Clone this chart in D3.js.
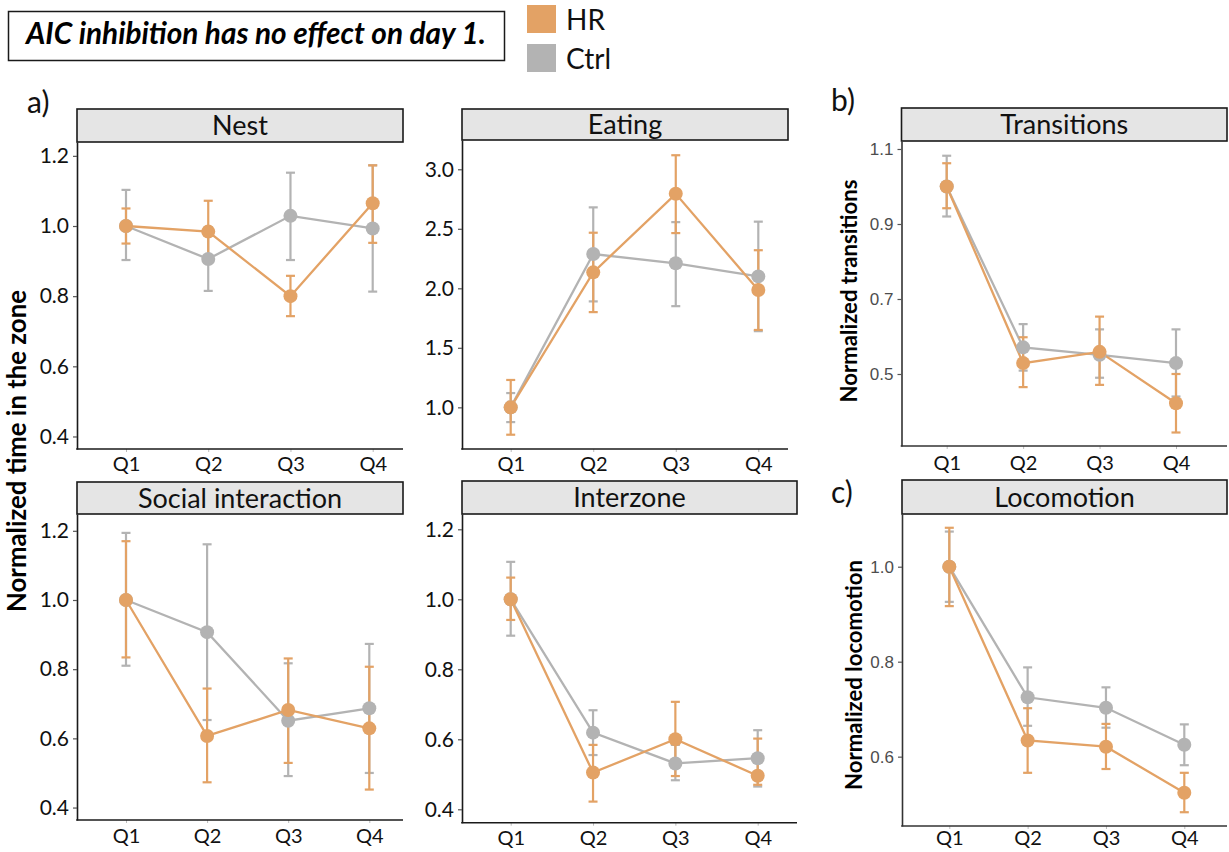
<!DOCTYPE html>
<html><head><meta charset="utf-8">
<script src="https://cdn.jsdelivr.net/npm/d3@7"></script>
<style>body{margin:0;background:#fff}svg{display:block}</style>
</head><body>
<svg id="c" width="1229" height="852"></svg>
<script>
// ---------- DATA ----------
const quarters = ["Q1", "Q2", "Q3", "Q4"];
const groups = ["Ctrl", "HR"];

const nestHRMean = [1.000, 0.984, 0.800, 1.065];
const nestHRLow  = [0.950, 0.896, 0.743, 0.952];
const nestHRHigh = [1.050, 1.072, 0.858, 1.173];
const nestCtrlMean = [1.000, 0.906, 1.029, 0.993];
const nestCtrlLow  = [0.903, 0.815, 0.903, 0.813];
const nestCtrlHigh = [1.103, 0.997, 1.152, 1.173];
const nestTicks = [0.4, 0.6, 0.8, 1.0, 1.2];

const eatingHRMean = [1.00, 2.134, 2.794, 1.986];
const eatingHRLow  = [0.77, 1.800, 2.464, 1.650];
const eatingHRHigh = [1.23, 2.467, 3.118, 2.320];
const eatingCtrlMean = [1.000, 2.288, 2.210, 2.100];
const eatingCtrlLow  = [0.876, 1.890, 1.850, 1.640];
const eatingCtrlHigh = [1.120, 2.680, 2.556, 2.560];
const eatingTicks = [1.0, 1.5, 2.0, 2.5, 3.0];

const transHRMean = [1.000, 0.529, 0.559, 0.422];
const transHRLow  = [0.942, 0.465, 0.471, 0.344];
const transHRHigh = [1.062, 0.598, 0.653, 0.500];
const transCtrlMean = [1.000, 0.571, 0.551, 0.529];
const transCtrlLow  = [0.920, 0.509, 0.490, 0.440];
const transCtrlHigh = [1.082, 0.633, 0.619, 0.619];
const transTicks = [0.5, 0.7, 0.9, 1.1];

const socialHRMean = [1.000, 0.607, 0.682, 0.629];
const socialHRLow  = [0.834, 0.473, 0.529, 0.452];
const socialHRHigh = [1.170, 0.744, 0.831, 0.807];
const socialCtrlMean = [1.000, 0.907, 0.651, 0.687];
const socialCtrlLow  = [0.810, 0.653, 0.491, 0.500];
const socialCtrlHigh = [1.194, 1.161, 0.817, 0.873];
const socialTicks = [0.4, 0.6, 0.8, 1.0, 1.2];

const interHRMean = [1.000, 0.505, 0.600, 0.496];
const interHRLow  = [0.941, 0.422, 0.495, 0.470];
const interHRHigh = [1.062, 0.584, 0.707, 0.602];
const interCtrlMean = [1.000, 0.619, 0.531, 0.546];
const interCtrlLow  = [0.896, 0.555, 0.483, 0.465];
const interCtrlHigh = [1.107, 0.683, 0.584, 0.626];
const interTicks = [0.4, 0.6, 0.8, 1.0, 1.2];

const locoHRMean = [1.000, 0.634, 0.621, 0.524];
const locoHRLow  = [0.917, 0.566, 0.574, 0.483];
const locoHRHigh = [1.082, 0.702, 0.669, 0.566];
const locoCtrlMean = [1.000, 0.725, 0.703, 0.625];
const locoCtrlLow  = [0.926, 0.665, 0.661, 0.582];
const locoCtrlHigh = [1.074, 0.788, 0.746, 0.668];
const locoTicks = [0.6, 0.8, 1.0];

// ---------- STYLE / LAYOUT ----------
const colors = { HR: "#E3A265", Ctrl: "#B3B3B3" };
const CAL = "Lato, 'Open Sans', sans-serif";
const ARI = "'Liberation Sans', Arial, sans-serif";

const panels = [
  { title: "Nest", ticks: nestTicks, style: "left",
    HR: [nestHRMean, nestHRLow, nestHRHigh], Ctrl: [nestCtrlMean, nestCtrlLow, nestCtrlHigh],
    L: { x0: 77, x1: 403, sTop: 109, sBot: 142, bottom: 449, q1: 126, q4: 372.7, dom: [0.3643, 1.2395], xlab: 8 } },
  { title: "Eating", ticks: eatingTicks, style: "left",
    HR: [eatingHRMean, eatingHRLow, eatingHRHigh], Ctrl: [eatingCtrlMean, eatingCtrlLow, eatingCtrlHigh],
    L: { x0: 462, x1: 788, sTop: 109, sBot: 140, bottom: 449, q1: 510.7, q4: 758.3, dom: [0.650, 3.246], xlab: 8 } },
  { title: "Transitions", ticks: transTicks, style: "right",
    HR: [transHRMean, transHRLow, transHRHigh], Ctrl: [transCtrlMean, transCtrlLow, transCtrlHigh],
    L: { x0: 901.5, x1: 1227, sTop: 108, sBot: 141, bottom: 446, q1: 946.7, q4: 1176, dom: [0.308, 1.1213], xlab: 10 } },
  { title: "Social interaction", ticks: socialTicks, style: "left",
    HR: [socialHRMean, socialHRLow, socialHRHigh], Ctrl: [socialCtrlMean, socialCtrlLow, socialCtrlHigh],
    L: { x0: 77, x1: 403, sTop: 482, sBot: 514, bottom: 820, q1: 126, q4: 369.3, dom: [0.364, 1.2486], xlab: 9 } },
  { title: "Interzone", ticks: interTicks, style: "left",
    HR: [interHRMean, interHRLow, interHRHigh], Ctrl: [interCtrlMean, interCtrlLow, interCtrlHigh],
    L: { x0: 462, x1: 797, sTop: 481, sBot: 514, bottom: 822.7, q1: 510.7, q4: 757.7, dom: [0.3617, 1.2437], xlab: 8 } },
  { title: "Locomotion", ticks: locoTicks, style: "right",
    HR: [locoHRMean, locoHRLow, locoHRHigh], Ctrl: [locoCtrlMean, locoCtrlLow, locoCtrlHigh],
    L: { x0: 902, x1: 1227, sTop: 480, sBot: 514, bottom: 826, q1: 949.3, q4: 1184.3, dom: [0.454, 1.111], xlab: 5 } }
];

const svg = d3.select("#c");
svg.append("rect").attr("width", 1229).attr("height", 852).attr("fill", "#fff");

function fitText(sel, target) {
  const node = sel.node();
  const fs = parseFloat(sel.style("font-size"));
  const w = node.getComputedTextLength();
  if (w > 0) sel.style("font-size", (fs * target / w) + "px");
}

function drawPanel(p) {
  const L = p.L;
  const g = svg.append("g");
  const x = d3.scalePoint().domain(quarters).range([L.q1, L.q4]);
  const y = d3.scaleLinear().domain(L.dom).range([L.bottom, L.sBot]);

  // strip
  g.append("rect").attr("x", L.x0).attr("y", L.sTop)
    .attr("width", L.x1 - L.x0).attr("height", L.sBot - L.sTop)
    .attr("fill", "#E5E5E5").attr("stroke", "#1a1a1a").attr("stroke-width", 1.6);
  g.append("text").attr("x", (L.x0 + L.x1) / 2).attr("y", (L.sTop + L.sBot) / 2)
    .attr("dy", "0.36em").attr("text-anchor", "middle")
    .style("font-family", CAL).style("font-size", "27px").attr("fill", "#111")
    .text(p.title);

  // y axis
  const yAx = g.append("g").attr("transform", `translate(${L.x0},0)`)
    .call(d3.axisLeft(y).tickValues(p.ticks).tickFormat(d3.format(".1f"))
      .tickSize(4).tickSizeOuter(0).tickPadding(4));
  yAx.attr("font-size", null);
  yAx.select(".domain").attr("stroke", p.style === "left" ? "#1a1a1a" : "#333").attr("stroke-width", 1.6);
  yAx.selectAll(".tick line").attr("stroke", "#555").attr("stroke-width", 1.2);
  if (p.style === "left") {
    yAx.selectAll(".tick text").attr("fill", "#111").style("font-family", CAL).style("font-size", "21px");
  } else {
    yAx.selectAll(".tick text").attr("fill", "#4D4D4D").style("font-family", ARI).style("font-size", "17px");
  }

  // x axis
  const xAx = g.append("g").attr("transform", `translate(0,${L.bottom})`)
    .call(d3.axisBottom(x).tickSize(3).tickSizeOuter(0).tickPadding(L.xlab - 3));
  xAx.attr("font-size", null);
  xAx.select(".domain").remove();
  xAx.selectAll(".tick line").attr("stroke", "#bbb").attr("stroke-width", 1);
  xAx.selectAll(".tick text").attr("fill", "#111").style("font-family", CAL).style("font-size", "20px");
  g.append("line").attr("x1", L.x0 - 0.8).attr("x2", L.x1).attr("y1", L.bottom).attr("y2", L.bottom)
    .attr("stroke", p.style === "left" ? "#1a1a1a" : "#333").attr("stroke-width", 1.6);

  const series = groups.map(k => ({
    key: k,
    pts: quarters.map((q, i) => ({ q, m: p[k][0][i], lo: p[k][1][i], hi: p[k][2][i] }))
  }));
  const line = d3.line().x(d => x(d.q)).y(d => y(d.m));

  // lines
  g.selectAll(".ln").data(series).join("path")
    .attr("d", s => line(s.pts)).attr("fill", "none")
    .attr("stroke", s => colors[s.key]).attr("stroke-width", 2.3);
  // error bars
  series.forEach(s => {
    const eb = g.append("g").attr("stroke", colors[s.key]).attr("stroke-width", 2.2);
    eb.selectAll(".v").data(s.pts).join("line")
      .attr("x1", d => x(d.q)).attr("x2", d => x(d.q)).attr("y1", d => y(d.lo)).attr("y2", d => y(d.hi));
    eb.selectAll(".t").data(s.pts).join("line")
      .attr("x1", d => x(d.q) - 4.5).attr("x2", d => x(d.q) + 4.5).attr("y1", d => y(d.hi)).attr("y2", d => y(d.hi));
    eb.selectAll(".b").data(s.pts).join("line")
      .attr("x1", d => x(d.q) - 4.5).attr("x2", d => x(d.q) + 4.5).attr("y1", d => y(d.lo)).attr("y2", d => y(d.lo));
  });
  // points
  series.forEach(s => {
    g.append("g").selectAll("circle").data(s.pts).join("circle")
      .attr("cx", d => x(d.q)).attr("cy", d => y(d.m)).attr("r", 7)
      .attr("fill", colors[s.key]);
  });
}

panels.forEach(drawPanel);

// ---------- Title box & legend ----------
svg.append("rect").attr("x", 8.5).attr("y", 11.5).attr("width", 496).attr("height", 49)
  .attr("fill", "#fff").attr("stroke", "#1a1a1a").attr("stroke-width", 1.5);
const ttl = svg.append("text").attr("x", 26).attr("y", 44)
  .style("font-family", CAL).style("font-weight", "bold").style("font-style", "italic")
  .style("font-size", "24px").attr("fill", "#000")
  .text("AIC inhibition has no effect on day 1.");
fitText(ttl, 460);

const legendY = [5, 44];
groups.slice().reverse().forEach((k, i) => {
  svg.append("rect").attr("x", 527).attr("y", legendY[i]).attr("width", 29).attr("height", 28)
    .attr("fill", colors[k]);
  svg.append("text").attr("x", 566).attr("y", legendY[i] + 25)
    .style("font-family", CAL).style("font-size", "28px").attr("fill", "#111").text(k);
});

// panel letters
[["a)", 27, 113], ["b)", 831, 111], ["c)", 831, 503]].forEach(([t, xx, yy]) => {
  svg.append("text").attr("x", xx).attr("y", yy)
    .style("font-family", CAL).style("font-size", "30px").attr("fill", "#111").text(t);
});

// y-axis titles
function yTitle(txt, cx, cy, len, fs) {
  const t = svg.append("text").attr("transform", `translate(${cx},${cy}) rotate(-90)`)
    .attr("text-anchor", "middle").attr("dy", "0.35em")
    .style("font-family", CAL).style("font-weight", "bold").style("font-size", fs + "px")
    .attr("fill", "#000").text(txt);
  fitText(t, len);
}
yTitle("Normalized time in the zone", 17, 451, 322, 20);
yTitle("Normalized transitions", 849, 291, 223, 20);
yTitle("Normalized locomotion", 854, 675, 230, 20);
</script>
</body></html>
